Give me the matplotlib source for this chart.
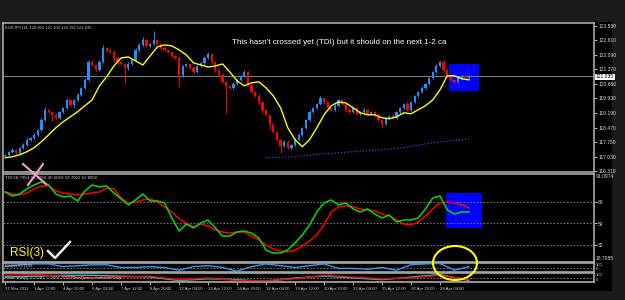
import matplotlib
matplotlib.use("Agg")
import matplotlib.pyplot as plt
from matplotlib.patches import Rectangle, Ellipse
from matplotlib.lines import Line2D
import numpy as np

plt.rcParams['font.family'] = ['Liberation Sans', 'DejaVu Sans']

# EURJPY H4 closes, one per bar
closes = [117.12, 117.27, 117.37, 117.22, 117.47, 117.62, 117.87, 117.96, 118.11, 118.36,
          118.86, 119.36, 119.26, 119.11, 118.96, 119.26, 119.46, 119.85, 119.60, 119.85,
          120.10, 120.45, 120.85, 121.74, 121.59, 121.34, 121.74, 122.44, 122.34, 122.24,
          121.94, 121.74, 121.64, 121.44, 121.64, 121.84, 122.34, 122.59, 122.84, 122.54,
          122.64, 122.84, 122.64, 122.44, 122.34, 122.24, 122.04, 121.94, 121.09, 121.54,
          121.64, 121.44, 121.24, 121.54, 121.69, 121.94, 122.14, 121.74, 121.34, 121.09,
          120.75, 120.55, 120.45, 120.65, 120.85, 121.05, 121.24, 120.60, 120.25, 120.05,
          119.75, 119.36, 119.11, 118.61, 118.26, 117.87, 117.57, 117.77, 117.47, 117.62,
          117.87, 118.11, 118.46, 118.86, 119.26, 119.46, 119.65, 119.95, 119.75, 119.46,
          119.36, 119.56, 119.85, 119.65, 119.36, 119.26, 119.46, 119.16, 119.26, 119.36,
          119.16, 119.26, 119.06, 118.86, 118.66, 118.96, 119.06, 118.96, 119.26, 119.46,
          119.65, 119.36, 119.75, 120.05, 120.25, 120.45, 120.65, 120.95, 121.24, 121.54,
          121.74, 121.34, 121.05, 120.85, 120.75, 120.95, 121.05, 120.95, 121.035]
first_open = 117.05
up_wick = [0.06, 0.05, 0.08, 0.06, 0.05, 0.08, 0.06, 0.05, 0.08, 0.06, 0.10, 0.12, 0.06, 0.05, 0.08, 0.06,
           0.05, 0.10, 0.06, 0.05, 0.08, 0.06, 0.10, 0.12, 0.08, 0.06, 0.10, 0.12, 0.06, 0.05, 0.08, 0.06,
           0.05, 0.06, 0.08, 0.06, 0.10, 0.08, 0.15, 0.06, 0.05, 0.44, 0.06, 0.05, 0.08, 0.06, 0.05, 0.06,
           0.08, 0.06, 0.05, 0.06, 0.08, 0.06, 0.05, 0.08, 0.10, 0.06, 0.05, 0.06, 0.08, 0.06, 0.05, 0.08,
           0.06, 0.05, 0.10, 0.06, 0.05, 0.06, 0.08, 0.06, 0.05, 0.06, 0.08, 0.06, 0.05, 0.08, 0.06, 0.05,
           0.06, 0.08, 0.06, 0.05, 0.08, 0.06, 0.05, 0.10, 0.06, 0.05, 0.06, 0.08, 0.06, 0.05, 0.06, 0.08,
           0.06, 0.05, 0.06, 0.08, 0.06, 0.05, 0.06, 0.08, 0.06, 0.05, 0.06, 0.08, 0.06, 0.05, 0.06, 0.08,
           0.06, 0.05, 0.06, 0.08, 0.06, 0.05, 0.06, 0.08, 0.06, 0.08, 0.05, 0.06, 0.05, 0.08, 0.06, 0.05, 0.04]
dn_wick = [0.06, 0.08, 0.05, 0.06, 0.08, 0.05, 0.06, 0.08, 0.05, 0.06, 0.08, 0.05, 0.06, 0.30, 0.05, 0.06,
           0.08, 0.05, 0.06, 0.08, 0.05, 0.06, 0.08, 0.05, 0.06, 0.10, 0.05, 0.06, 0.08, 0.05, 0.20, 0.08,
           0.05, 0.74, 0.08, 0.05, 0.06, 0.08, 0.05, 0.06, 0.08, 0.05, 0.06, 0.08, 0.05, 0.06, 0.08, 0.05,
           0.60, 0.08, 0.05, 0.06, 0.08, 0.05, 0.06, 0.08, 0.05, 0.06, 0.08, 0.05, 0.06, 1.34, 0.05, 0.06,
           0.08, 0.05, 0.06, 0.08, 0.05, 0.06, 0.08, 0.15, 0.06, 0.20, 0.05, 0.06, 0.35, 0.05, 0.06, 0.08,
           0.05, 0.06, 0.08, 0.05, 0.06, 0.08, 0.05, 0.06, 0.08, 0.05, 0.06, 0.08, 0.05, 0.06, 0.08, 0.05,
           0.06, 0.08, 0.05, 0.06, 0.08, 0.05, 0.06, 0.08, 0.20, 0.06, 0.08, 0.05, 0.06, 0.08, 0.05, 0.06,
           0.08, 0.05, 0.06, 0.08, 0.05, 0.06, 0.08, 0.05, 0.06, 0.08, 0.05, 0.06, 0.10, 0.08, 0.05, 0.06, 0.05]

# yellow moving average, every 2 bars
ma_fast = [116.97, 117.02, 117.12, 117.27, 117.47, 117.77, 118.11, 118.46, 118.76, 119.01, 119.26, 119.56,
           119.85, 120.55, 121.00, 121.54, 121.94, 121.99, 121.79, 121.59, 122.04, 122.49, 122.59, 122.54,
           122.34, 122.09, 121.69, 121.59, 121.49, 121.54, 121.64, 121.24, 120.80, 120.55, 120.70, 120.75,
           120.45, 120.05, 119.46, 118.46, 117.87, 117.52, 117.87, 118.46, 119.11, 119.56, 119.75, 119.70,
           119.46, 119.21, 119.11, 119.11, 118.96, 118.91, 119.01, 119.21, 119.16, 119.36, 119.56, 119.85,
           120.35, 121.05, 121.05, 120.90, 120.85]
# slow blue dotted average (visible part only)
ma_slow_idx = [72, 80, 88, 96, 104, 110, 118, 128]
ma_slow = [116.97, 117.02, 117.17, 117.27, 117.37, 117.47, 117.72, 117.91]

# TDI, every 2 bars
tdi_green = [76.4, 73.0, 74.7, 78.9, 82.2, 84.7, 82.2, 74.7, 72.2, 73.0, 68.8, 77.2, 82.2, 80.6, 81.4, 75.5,
             70.5, 65.5, 69.7, 74.7, 68.8, 68.8, 67.2, 54.6, 43.7, 49.6, 46.3, 50.4, 52.9, 46.3, 39.5, 39.5,
             42.9, 43.7, 42.0, 37.9, 27.8, 25.3, 25.3, 27.8, 33.7, 40.4, 48.7, 59.6, 67.2, 69.7, 65.5, 67.2,
             62.2, 59.6, 62.2, 57.9, 54.6, 57.1, 51.3, 52.9, 52.9, 54.6, 62.2, 71.3, 73.0, 61.5, 57.9, 59.6, 59.7]
tdi_red = [76.4, 74.7, 73.9, 75.5, 78.9, 81.4, 81.4, 77.2, 75.5, 74.7, 73.9, 74.7, 75.5, 76.4, 79.7, 78.9,
           71.3, 67.2, 68.0, 69.7, 70.5, 68.0, 63.8, 59.6, 53.8, 50.4, 47.1, 49.6, 47.9, 44.6, 42.9, 42.0,
           42.9, 42.9, 39.5, 36.2, 32.0, 28.7, 27.0, 26.2, 27.8, 31.2, 35.3, 40.4, 48.7, 59.6, 63.8, 64.7,
           63.8, 62.2, 61.3, 60.5, 57.9, 56.3, 52.9, 49.6, 48.7, 51.3, 56.3, 62.2, 67.2, 68.0, 67.2, 65.5, 62.9]
tdi_levels = [68, 50, 32]

# RSI(3), every 4 bars
rsi3 = [61, 83, 94, 94, 61, 72, 83, 83, 50, 50, 61, 50, 17, 61, 72, 50, 6,
        61, 94, 72, 50, 72, 94, 39, 39, 28, 50, 17, 83, 94, 99, 17, 61]

# bottom window, every 8 bars
low_red = [78, 89, 67, 44, 56, 67, 22, 44, 11, 11, 33, 78, 56, 33, 44, 78, 22]
low_cyan = [56, 67, 78, 78, 67, 56, 11, 33, 22, 0, 44, 67, 44, 22, 56, 89, 11]

price_ticks = [123.530, 122.810, 122.090, 121.370, 120.650, 119.930, 119.190, 118.470, 117.750, 117.030, 116.310]
last_price = 121.035
time_labels = ["31 Mar 2011", "1 Apr 12:00", "4 Apr 20:00", "6 Apr 04:00", "7 Apr 12:00", "8 Apr 20:00",
               "12 Apr 04:00", "13 Apr 12:00", "14 Apr 20:00", "18 Apr 04:00", "19 Apr 12:00", "20 Apr 20:00",
               "22 Apr 04:00", "25 Apr 12:00", "26 Apr 20:00", "28 Apr 04:00"]

W, H = 625, 300
def fx(px):
    return px / W
def fy(py):
    return 1 - py / H

fig = plt.figure(figsize=(6.25, 3), dpi=100, facecolor='#1b1b1b')
fig.patches.append(Rectangle((fx(3), fy(291)), fx(609), (291 - 22) / H, transform=fig.transFigure,
                             facecolor='black', edgecolor='none', zorder=-10))

def panel(top, bot):
    ax = fig.add_axes([fx(3), fy(bot), fx(591), (bot - top) / H])
    ax.set_facecolor('black')
    for s in ax.spines.values():
        s.set_color('#a8a8a8')
        s.set_linewidth(1.2)
    ax.set_xlim(-0.6, 162.5)
    ax.set_xticks([])
    ax.yaxis.tick_right()
    ax.tick_params(axis='y', colors='#d8d8d8', labelsize=3.6, length=2, width=0.6, pad=1)
    return ax

n = len(closes)
idx = np.arange(n)
opens = [first_open] + closes[:-1]

# main price window
ax = panel(23, 172)
ax.set_ylim(116.26, 123.68)
ax.set_yticks(price_ticks)
ax.set_yticklabels(["%.3f" % t for t in price_ticks])
ax.add_patch(Rectangle((fx(449), fy(91)), fx(30), 27 / H, transform=fig.transFigure,
                       facecolor='#0000ff', edgecolor='none', zorder=0.5))
ax.axhline(last_price, color='#7a7a7a', lw=0.8, zorder=1)
for i in idx:
    o, c = opens[i], closes[i]
    col = '#1e90ff' if c >= o else '#ff0000'
    hi = max(o, c) + up_wick[i]
    lo = min(o, c) - dn_wick[i]
    ax.vlines(i, lo, hi, color=col, lw=0.7, zorder=2)
    ax.bar(i, max(abs(c - o), 0.02), bottom=min(o, c), width=0.62, color=col, lw=0, zorder=2)
ax.plot(idx[::2], ma_fast, color='#ffff00', lw=1.0, zorder=3)
ax.plot(ma_slow_idx, ma_slow, color='#2a55d0', lw=0.9, ls=(0, (1, 1.5)), zorder=3)
ax.text(0.004, 0.985, "EURJPY,H4  120.816 121.102 120.782 121.035", transform=ax.transAxes,
        color='#c8c8c8', fontsize=3.0, va='top', ha='left')
fig.text(fx(232), fy(42), "This hasn't crossed yet (TDI) but it should on the next 1-2 ca",
         color='white', fontsize=5.8, va='center', ha='left')
fig.text(fx(596), fy(77), "%.3f" % last_price, color='black', fontsize=3.6, va='center', ha='left',
         bbox=dict(boxstyle='square,pad=0.15', fc='white', ec='none'))

# TDI window
ax2 = panel(174, 262)
ax2.set_ylim(17.8, 91.4)
ax2.set_yticks(tdi_levels)
for lv in tdi_levels:
    ax2.axhline(lv, color='#8a8a8a', lw=0.6, ls=(0, (2, 2)), zorder=1)
ax2.add_patch(Rectangle((fx(446), fy(228)), fx(36), 35 / H, transform=fig.transFigure,
                        facecolor='#0000ff', edgecolor='none', zorder=0.5))
ax2.plot(idx[::2], tdi_red, color='#ff0000', lw=1.1, zorder=3)
ax2.plot(idx[::2], tdi_green, color='#00e000', lw=1.1, zorder=3)
ax2.text(0.004, 0.975, "TDI 68.7964 51.1856 40.5069 59.7022 62.8856", transform=ax2.transAxes,
         color='#c8c8c8', fontsize=3.2, va='top', ha='left')
fig.text(fx(596), fy(177), "91.0974", color='#d8d8d8', fontsize=3.6, va='center', ha='left')

# RSI(3) window
ax3 = panel(263, 272)
ax3.set_ylim(-5, 105)
ax3.set_yticks([])
ax3.axhline(39, color='#8a8a8a', lw=0.6, ls=(0, (2, 2)), zorder=1)
ax3.plot(idx[::4], rsi3, color='#3399ff', lw=1.0, zorder=3)
ax3.text(0.004, 0.9, "RSI(3) 63.1108", transform=ax3.transAxes,
         color='#c8c8c8', fontsize=3.0, va='top', ha='left')
fig.text(fx(596), fy(258), "18.7985", color='#d8d8d8', fontsize=3.6, va='center', ha='left')
fig.text(fx(596), fy(265), "100", color='#d8d8d8', fontsize=3.0, va='center', ha='left')
fig.text(fx(596), fy(269), "0", color='#d8d8d8', fontsize=3.0, va='center', ha='left')

# bottom window
ax4 = panel(273, 282)
ax4.set_ylim(-8, 108)
ax4.set_yticks([])
ax4.axhline(50, color='#8a8a8a', lw=0.6, ls=(0, (2, 2)), zorder=1)
ax4.axhline(8, color='#8a8a8a', lw=0.6, ls=(0, (2, 2)), zorder=1)
ax4.plot(idx[::8], low_cyan, color='#20c0c0', lw=1.0, zorder=3)
ax4.plot(idx[::8], low_red, color='#ff0000', lw=1.0, zorder=3)
ax4.text(0.004, 0.45, "Pivot  Hull(8) 21.6381  \u00a9 2001-2010 MetaQuotes Software Corp.",
         transform=ax4.transAxes, color='#c8c8c8', fontsize=3.0, va='center', ha='left')
fig.text(fx(596), fy(275), "100", color='#d8d8d8', fontsize=3.0, va='center', ha='left')
fig.text(fx(596), fy(280), "0", color='#d8d8d8', fontsize=3.0, va='center', ha='left')
ax4.set_xticks(idx[:len(time_labels) * 8:8])
ax4.tick_params(axis='x', colors='#d8d8d8', length=2, width=0.6, labelsize=3.1, pad=1.5)
ax4.set_xticklabels(time_labels, ha='left')

# hand drawn marks
fig.text(fx(10), fy(253), "RSI(3)", color='#ffff00', fontsize=8.5, va='center', ha='left')
fig.add_artist(Line2D([fx(48), fx(55), fx(70)], [fy(251), fy(258), fy(242)], color='#e8f4e8', lw=1.8,
                      transform=fig.transFigure))
fig.add_artist(Line2D([fx(23), fx(46)], [fy(164), fy(184)], color='#f0a0c8', lw=1.5, transform=fig.transFigure))
fig.add_artist(Line2D([fx(43), fx(28)], [fy(164), fy(185)], color='#f0a0c8', lw=1.5, transform=fig.transFigure))
fig.patches.append(Ellipse((fx(455), fy(263)), fx(44), 34 / H, transform=fig.transFigure,
                           facecolor='none', edgecolor='#ffff00', lw=1.5, zorder=10))

fig.savefig("out.png", dpi=100, facecolor=fig.get_facecolor())
